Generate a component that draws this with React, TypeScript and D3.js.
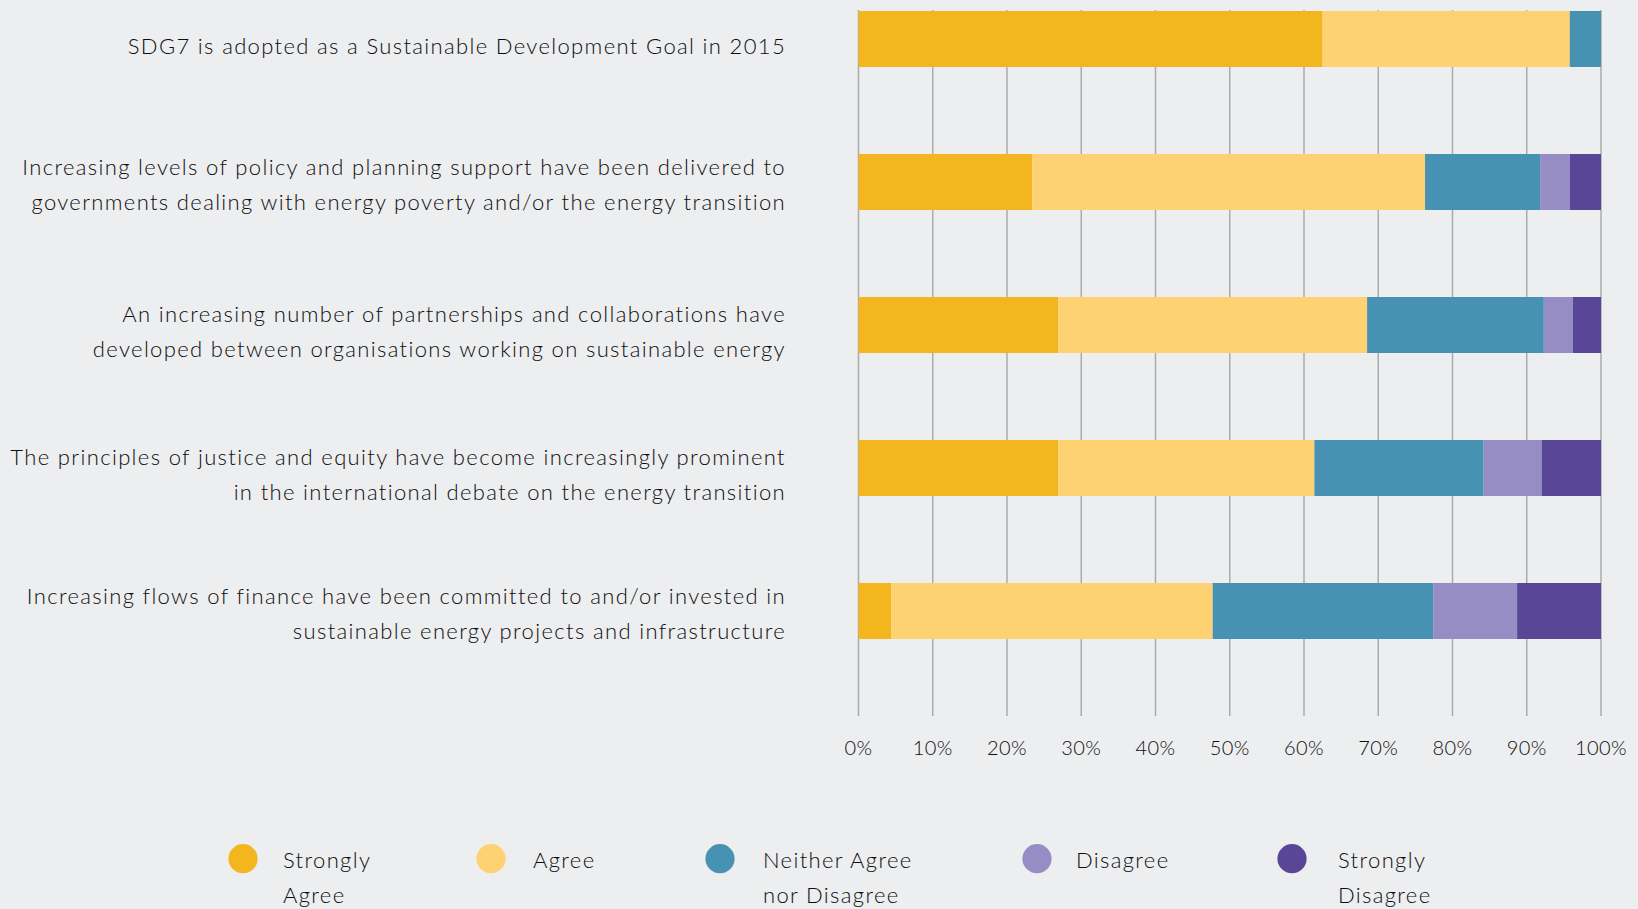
import React from "react";
import * as d3 from "d3";

// ---- data ----
const categories: string[][] = [
  ["SDG7 is adopted as a Sustainable Development Goal in 2015"],
  [
    "Increasing levels of policy and planning support have been delivered to",
    "governments dealing with energy poverty and/or the energy transition",
  ],
  [
    "An increasing number of partnerships and collaborations have",
    "developed between organisations working on sustainable energy",
  ],
  [
    "The principles of justice and equity have become increasingly prominent",
    "in the international debate on the energy transition",
  ],
  [
    "Increasing flows of finance have been committed to and/or invested in",
    "sustainable energy projects and infrastructure",
  ],
];

const seriesKeys = ["sa", "a", "n", "d", "sd"];
const seriesLabels: string[][] = [
  ["Strongly", "Agree"],
  ["Agree"],
  ["Neither Agree", "nor Disagree"],
  ["Disagree"],
  ["Strongly", "Disagree"],
];
const stronglyAgree = [62.5, 23.4, 26.9, 26.9, 4.4];
const agree = [33.3, 52.9, 41.6, 34.5, 43.3];
const neither = [4.2, 15.5, 23.8, 22.8, 29.7];
const disagree = [0, 4.0, 3.9, 7.8, 11.3];
const stronglyDisagree = [0, 4.2, 3.8, 8.0, 11.3];
const tickValues = [0, 10, 20, 30, 40, 50, 60, 70, 80, 90, 100];

// ---- styles / layout ----
const colors = ["#F4B61E", "#FED272", "#4792B2", "#958DC4", "#5A4697"];
const W = 1638;
const H = 909;
const BG = "#EDEEF0";
const FONT = "Lato, 'Open Sans', sans-serif";
const TEXT = "#0d0d0d";
const legendCircleX = [243, 491, 720, 1037, 1292];
const legendTextX = [283, 533, 763, 1076, 1338];
const labelShift = [0, -4, 0, 0, -4];

export default function App() {
  React.useEffect(() => {
    document.body.style.margin = "0";
    document.body.style.background = BG;
  }, []);

  const rows = categories.map((c, i) => ({
    idx: i,
    sa: stronglyAgree[i],
    a: agree[i],
    n: neither[i],
    d: disagree[i],
    sd: stronglyDisagree[i],
  }));
  const stack = d3.stack<any>().keys(seriesKeys)(rows);

  const x = d3.scaleLinear().domain([0, 100]).range([858.5, 1601]);
  const y = d3
    .scaleBand<number>()
    .domain(categories.map((_, i) => i))
    .range([11, 639])
    .paddingInner(87 / 143)
    .paddingOuter(0);

  const gridTop = 10;
  const gridBottom = 716;
  const lineH = 35;

  return (
    <svg
      width={W}
      height={H}
      style={{ position: "absolute", left: 0, top: 0, background: BG }}
      fontFamily={FONT}
      fontWeight={300}
    >
      <rect x={0} y={0} width={W} height={H} fill={BG} />
      {/* gridlines */}
      {tickValues.map((t) => (
        <line
          key={"g" + t}
          x1={x(t)}
          x2={x(t)}
          y1={gridTop}
          y2={gridBottom}
          stroke="#ABABAB"
          strokeWidth={1.5}
        />
      ))}
      {/* tick labels */}
      {tickValues.map((t) => (
        <text
          key={"t" + t}
          x={x(t)}
          y={755}
          textAnchor="middle"
          fontSize={20}
          letterSpacing={0.4}
          fill={TEXT}
        >
          {t + "%"}
        </text>
      ))}
      {/* bars */}
      {stack.map((s, si) => (
        <g key={s.key} fill={colors[si]}>
          {s.map((d: any, i: number) =>
            d[1] - d[0] > 0 ? (
              <rect
                key={i}
                x={x(d[0])}
                y={y(i)}
                width={x(d[1]) - x(d[0])}
                height={y.bandwidth()}
              />
            ) : null
          )}
        </g>
      ))}
      {/* category labels */}
      {categories.map((lines, i) => {
        const c = (y(i) as number) + y.bandwidth() / 2 + 6.5 + labelShift[i];
        return (
          <text
            key={"c" + i}
            textAnchor="end"
            fontSize={22}
            letterSpacing={1.35}
            fill={TEXT}
          >
            {lines.map((ln, li) => (
              <tspan
                key={li}
                x={786}
                y={c + (li - (lines.length - 1) / 2) * lineH + 8}
              >
                {ln}
              </tspan>
            ))}
          </text>
        );
      })}
      {/* legend */}
      {seriesLabels.map((lines, i) => (
        <g key={"l" + i}>
          <circle cx={legendCircleX[i]} cy={858.7} r={14.6} fill={colors[i]} />
          <text fontSize={22} letterSpacing={1.35} fill={TEXT}>
            {lines.map((ln, li) => (
              <tspan key={li} x={legendTextX[i]} y={868.3 + li * lineH}>
                {ln}
              </tspan>
            ))}
          </text>
        </g>
      ))}
    </svg>
  );
}
